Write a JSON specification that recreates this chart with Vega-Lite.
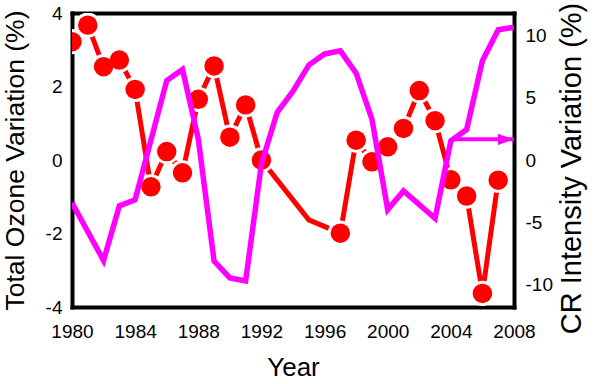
{
  "$schema": "https://vega.github.io/schema/vega-lite/v6.json",
  "width": 442,
  "height": 294,
  "autosize": "none",
  "padding": {"left": 72, "top": 13, "right": 86, "bottom": 77},
  "config": {
    "view": {"stroke": null},
    "font": "Liberation Sans",
    "axis": {
      "grid": false,
      "ticks": false,
      "domainColor": "#000",
      "domainWidth": 4,
      "domainCap": "square",
      "labelColor": "#000",
      "labelFontSize": 19,
      "labelFlush": false,
      "labelOverlap": false,
      "titleColor": "#000",
      "titleFontWeight": "normal",
      "zindex": 2
    }
  },
  "datasets": {
    "ozone": [
      {"Year": 1980, "Ozone": 3.22},
      {"Year": 1981, "Ozone": 3.67},
      {"Year": 1982, "Ozone": 2.54},
      {"Year": 1983, "Ozone": 2.72},
      {"Year": 1984, "Ozone": 1.92},
      {"Year": 1985, "Ozone": -0.73},
      {"Year": 1986, "Ozone": 0.23},
      {"Year": 1987, "Ozone": -0.35},
      {"Year": 1988, "Ozone": 1.65},
      {"Year": 1989, "Ozone": 2.56},
      {"Year": 1990, "Ozone": 0.62},
      {"Year": 1991, "Ozone": 1.5},
      {"Year": 1992, "Ozone": 0.0},
      {"Year": 1995, "Ozone": -1.63},
      {"Year": 1997, "Ozone": -1.99},
      {"Year": 1998, "Ozone": 0.54},
      {"Year": 1999, "Ozone": -0.05},
      {"Year": 2000, "Ozone": 0.36},
      {"Year": 2001, "Ozone": 0.86},
      {"Year": 2002, "Ozone": 1.89},
      {"Year": 2003, "Ozone": 1.07},
      {"Year": 2004, "Ozone": -0.54},
      {"Year": 2005, "Ozone": -0.98},
      {"Year": 2006, "Ozone": -3.63},
      {"Year": 2007, "Ozone": -0.55}
    ],
    "cr": [
      {"Year": 1980, "CR": -3.45},
      {"Year": 1982, "CR": -8.1},
      {"Year": 1983, "CR": -3.7},
      {"Year": 1984, "CR": -3.2},
      {"Year": 1986, "CR": 6.4},
      {"Year": 1987, "CR": 7.3},
      {"Year": 1988, "CR": 1.7},
      {"Year": 1989, "CR": -8.15},
      {"Year": 1990, "CR": -9.5},
      {"Year": 1991, "CR": -9.75},
      {"Year": 1992, "CR": -0.3},
      {"Year": 1993, "CR": 3.85},
      {"Year": 1994, "CR": 5.55},
      {"Year": 1995, "CR": 7.65},
      {"Year": 1996, "CR": 8.55},
      {"Year": 1997, "CR": 8.8},
      {"Year": 1998, "CR": 7.0},
      {"Year": 1999, "CR": 3.3},
      {"Year": 2000, "CR": -4.0},
      {"Year": 2001, "CR": -2.5},
      {"Year": 2003, "CR": -4.7},
      {"Year": 2004, "CR": 1.55},
      {"Year": 2005, "CR": 2.45},
      {"Year": 2006, "CR": 8.0},
      {"Year": 2007, "CR": 10.5},
      {"Year": 2008, "CR": 10.7}
    ],
    "arrow": [
      {"Year": 2004, "YearEnd": 2008, "CR": 1.67}
    ],
    "xticks": [
      {"Year": 1982, "Kind": "minor"},
      {"Year": 1984, "Kind": "major"},
      {"Year": 1986, "Kind": "minor"},
      {"Year": 1988, "Kind": "major"},
      {"Year": 1990, "Kind": "minor"},
      {"Year": 1992, "Kind": "major"},
      {"Year": 1994, "Kind": "minor"},
      {"Year": 1996, "Kind": "major"},
      {"Year": 1998, "Kind": "minor"},
      {"Year": 2000, "Kind": "major"},
      {"Year": 2002, "Kind": "minor"},
      {"Year": 2004, "Kind": "major"},
      {"Year": 2006, "Kind": "minor"}
    ],
    "ozoneticks": [
      {"Ozone": -3, "Kind": "minor"},
      {"Ozone": -2, "Kind": "major"},
      {"Ozone": -1, "Kind": "minor"},
      {"Ozone": 0, "Kind": "major"},
      {"Ozone": 1, "Kind": "minor"},
      {"Ozone": 2, "Kind": "major"},
      {"Ozone": 3, "Kind": "minor"}
    ],
    "crticks": [
      {"CR": -10, "Kind": "major"},
      {"CR": -7.5, "Kind": "minor"},
      {"CR": -5, "Kind": "major"},
      {"CR": -2.5, "Kind": "minor"},
      {"CR": 0, "Kind": "major"},
      {"CR": 2.5, "Kind": "minor"},
      {"CR": 5, "Kind": "major"},
      {"CR": 7.5, "Kind": "minor"},
      {"CR": 10, "Kind": "major"}
    ]
  },
  "layer": [
    {
      "data": {"name": "ozone"},
      "encoding": {
        "x": {
          "field": "Year",
          "type": "quantitative",
          "scale": {"domain": [1980, 2008], "nice": false, "zero": false},
          "axis": {
            "orient": "bottom",
            "values": [1980, 1984, 1988, 1992, 1996, 2000, 2004, 2008],
            "labelExpr": "'' + datum.value",
            "labelPadding": 15,
            "title": "Year",
            "titleFontSize": 26,
            "titlePadding": 13
          }
        },
        "y": {
          "field": "Ozone",
          "type": "quantitative",
          "scale": {"domain": [-4, 4], "nice": false, "zero": false},
          "axis": {
            "orient": "left",
            "values": [-4, -2, 0, 2, 4],
            "labelExpr": "'' + datum.value",
            "labelPadding": 10,
            "title": "Total Ozone Variation (%)",
            "titleFontSize": 26.5,
            "titlePadding": 16
          }
        }
      },
      "layer": [
        {"mark": {"type": "line", "color": "#FF0000", "strokeWidth": 5, "clip": true}},
        {
          "transform": [{"filter": "datum.Year != 1995"}],
          "mark": {"type": "point", "shape": "circle", "filled": true, "color": "#FFFFFF", "opacity": 1, "size": 640, "clip": true}
        },
        {
          "transform": [{"filter": "datum.Year != 1995"}],
          "mark": {"type": "point", "shape": "circle", "filled": true, "color": "#FF0000", "opacity": 1, "size": 380, "clip": true}
        },
        {
          "data": {"name": "xticks"},
          "mark": {"type": "tick", "orient": "vertical", "color": "#000000", "opacity": 1, "thickness": 3.5, "clip": true},
          "encoding": {
            "y": {"datum": -4, "type": "quantitative"},
            "size": {"condition": {"test": "datum.Kind === 'major'", "value": 26}, "value": 16}
          }
        },
        {
          "data": {"name": "xticks"},
          "mark": {"type": "tick", "orient": "vertical", "color": "#000000", "opacity": 1, "thickness": 3.5, "clip": true},
          "encoding": {
            "y": {"datum": 4, "type": "quantitative"},
            "size": {"condition": {"test": "datum.Kind === 'major'", "value": 26}, "value": 16}
          }
        },
        {
          "data": {"name": "ozoneticks"},
          "mark": {"type": "tick", "orient": "horizontal", "color": "#000000", "opacity": 1, "thickness": 3.5, "clip": true},
          "encoding": {
            "x": {"datum": 1980, "type": "quantitative"},
            "size": {"condition": {"test": "datum.Kind === 'major'", "value": 26}, "value": 16}
          }
        }
      ]
    },
    {
      "encoding": {
        "x": {
          "field": "Year",
          "type": "quantitative",
          "scale": {"domain": [1980, 2008], "nice": false, "zero": false},
          "axis": {
            "orient": "top",
            "values": [1980, 2008],
            "labels": false,
            "title": null
          }
        },
        "y": {
          "field": "CR",
          "type": "quantitative",
          "scale": {"domain": [-11.85, 11.85], "nice": false, "zero": false},
          "axis": {
            "orient": "right",
            "values": [-10, -5, 0, 5, 10],
            "labelExpr": "'' + datum.value",
            "labelPadding": 11,
            "title": "CR Intensity Variation (%)",
            "titleFontSize": 29,
            "titleAngle": 270,
            "titleBaseline": "top",
            "titlePadding": 5,
            "titleY": 155
          }
        }
      },
      "layer": [
        {
          "data": {"name": "crticks"},
          "mark": {"type": "tick", "orient": "horizontal", "color": "#000000", "opacity": 1, "thickness": 3.5, "clip": true},
          "encoding": {
            "x": {"datum": 2008, "type": "quantitative"},
            "size": {"condition": {"test": "datum.Kind === 'major'", "value": 26}, "value": 16}
          }
        },
        {
          "data": {"name": "cr"},
          "mark": {"type": "line", "color": "#FF00FF", "strokeWidth": 5.5, "clip": true}
        },
        {
          "data": {"name": "arrow"},
          "mark": {"type": "rule", "color": "#FF00FF", "strokeWidth": 4},
          "encoding": {"x2": {"field": "YearEnd"}}
        },
        {
          "data": {"name": "arrow"},
          "mark": {"type": "point", "shape": "M-2,-0.7L0,0L-2,0.7Z", "filled": true, "color": "#FF00FF", "opacity": 1, "size": 256},
          "encoding": {"x": {"field": "YearEnd", "type": "quantitative"}}
        }
      ]
    }
  ],
  "resolve": {"scale": {"y": "independent"}, "axis": {"x": "independent"}}
}
